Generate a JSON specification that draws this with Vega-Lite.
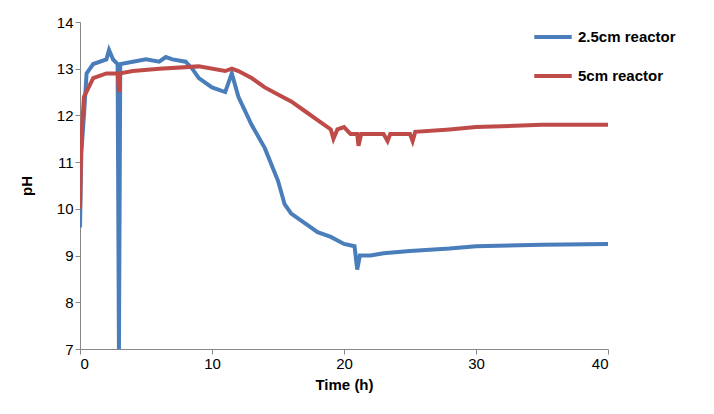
{
  "$schema": "https://vega.github.io/schema/vega-lite/v6.json",
  "background": "white",
  "autosize": "none",
  "width": 528,
  "height": 327,
  "padding": {"top": 22, "left": 80, "right": 106, "bottom": 65},
  "data": {
    "values": [
      {"t": 0, "pH": 9.6, "s": "2.5cm reactor"},
      {"t": 0.1, "pH": 11.2, "s": "2.5cm reactor"},
      {"t": 0.3, "pH": 12.0, "s": "2.5cm reactor"},
      {"t": 0.5, "pH": 12.9, "s": "2.5cm reactor"},
      {"t": 1, "pH": 13.1, "s": "2.5cm reactor"},
      {"t": 2, "pH": 13.2, "s": "2.5cm reactor"},
      {"t": 2.2, "pH": 13.4, "s": "2.5cm reactor"},
      {"t": 2.5, "pH": 13.2, "s": "2.5cm reactor"},
      {"t": 2.85, "pH": 13.1, "s": "2.5cm reactor"},
      {"t": 2.95, "pH": 7.0, "s": "2.5cm reactor"},
      {"t": 3.05, "pH": 13.1, "s": "2.5cm reactor"},
      {"t": 4, "pH": 13.15, "s": "2.5cm reactor"},
      {"t": 5, "pH": 13.2, "s": "2.5cm reactor"},
      {"t": 6, "pH": 13.15, "s": "2.5cm reactor"},
      {"t": 6.5, "pH": 13.25, "s": "2.5cm reactor"},
      {"t": 7, "pH": 13.2, "s": "2.5cm reactor"},
      {"t": 8, "pH": 13.15, "s": "2.5cm reactor"},
      {"t": 8.5, "pH": 13.0, "s": "2.5cm reactor"},
      {"t": 9, "pH": 12.8, "s": "2.5cm reactor"},
      {"t": 10, "pH": 12.6, "s": "2.5cm reactor"},
      {"t": 11, "pH": 12.5, "s": "2.5cm reactor"},
      {"t": 11.5, "pH": 12.9, "s": "2.5cm reactor"},
      {"t": 12, "pH": 12.4, "s": "2.5cm reactor"},
      {"t": 13, "pH": 11.8, "s": "2.5cm reactor"},
      {"t": 14, "pH": 11.3, "s": "2.5cm reactor"},
      {"t": 15, "pH": 10.6, "s": "2.5cm reactor"},
      {"t": 15.5, "pH": 10.1, "s": "2.5cm reactor"},
      {"t": 16, "pH": 9.9, "s": "2.5cm reactor"},
      {"t": 17, "pH": 9.7, "s": "2.5cm reactor"},
      {"t": 18, "pH": 9.5, "s": "2.5cm reactor"},
      {"t": 19, "pH": 9.4, "s": "2.5cm reactor"},
      {"t": 20, "pH": 9.25, "s": "2.5cm reactor"},
      {"t": 20.8, "pH": 9.2, "s": "2.5cm reactor"},
      {"t": 21, "pH": 8.7, "s": "2.5cm reactor"},
      {"t": 21.2, "pH": 9.0, "s": "2.5cm reactor"},
      {"t": 22, "pH": 9.0, "s": "2.5cm reactor"},
      {"t": 23, "pH": 9.05, "s": "2.5cm reactor"},
      {"t": 25, "pH": 9.1, "s": "2.5cm reactor"},
      {"t": 28, "pH": 9.15, "s": "2.5cm reactor"},
      {"t": 30, "pH": 9.2, "s": "2.5cm reactor"},
      {"t": 35, "pH": 9.23, "s": "2.5cm reactor"},
      {"t": 40, "pH": 9.25, "s": "2.5cm reactor"},
      {"t": 0, "pH": 10.0, "s": "5cm reactor"},
      {"t": 0.1, "pH": 11.5, "s": "5cm reactor"},
      {"t": 0.3, "pH": 12.4, "s": "5cm reactor"},
      {"t": 1, "pH": 12.8, "s": "5cm reactor"},
      {"t": 2, "pH": 12.9, "s": "5cm reactor"},
      {"t": 2.85, "pH": 12.9, "s": "5cm reactor"},
      {"t": 2.95, "pH": 12.5, "s": "5cm reactor"},
      {"t": 3.05, "pH": 12.9, "s": "5cm reactor"},
      {"t": 4, "pH": 12.95, "s": "5cm reactor"},
      {"t": 6, "pH": 13.0, "s": "5cm reactor"},
      {"t": 9, "pH": 13.05, "s": "5cm reactor"},
      {"t": 11, "pH": 12.95, "s": "5cm reactor"},
      {"t": 11.5, "pH": 13.0, "s": "5cm reactor"},
      {"t": 12, "pH": 12.95, "s": "5cm reactor"},
      {"t": 13, "pH": 12.8, "s": "5cm reactor"},
      {"t": 14, "pH": 12.6, "s": "5cm reactor"},
      {"t": 15, "pH": 12.45, "s": "5cm reactor"},
      {"t": 16, "pH": 12.3, "s": "5cm reactor"},
      {"t": 17, "pH": 12.1, "s": "5cm reactor"},
      {"t": 18, "pH": 11.9, "s": "5cm reactor"},
      {"t": 19, "pH": 11.7, "s": "5cm reactor"},
      {"t": 19.2, "pH": 11.5, "s": "5cm reactor"},
      {"t": 19.5, "pH": 11.7, "s": "5cm reactor"},
      {"t": 20, "pH": 11.75, "s": "5cm reactor"},
      {"t": 20.5, "pH": 11.6, "s": "5cm reactor"},
      {"t": 21, "pH": 11.6, "s": "5cm reactor"},
      {"t": 21.1, "pH": 11.35, "s": "5cm reactor"},
      {"t": 21.3, "pH": 11.6, "s": "5cm reactor"},
      {"t": 23, "pH": 11.6, "s": "5cm reactor"},
      {"t": 23.3, "pH": 11.45, "s": "5cm reactor"},
      {"t": 23.5, "pH": 11.6, "s": "5cm reactor"},
      {"t": 25, "pH": 11.6, "s": "5cm reactor"},
      {"t": 25.2, "pH": 11.45, "s": "5cm reactor"},
      {"t": 25.4, "pH": 11.65, "s": "5cm reactor"},
      {"t": 28, "pH": 11.7, "s": "5cm reactor"},
      {"t": 30, "pH": 11.75, "s": "5cm reactor"},
      {"t": 35, "pH": 11.8, "s": "5cm reactor"},
      {"t": 40, "pH": 11.8, "s": "5cm reactor"}
    ]
  },
  "mark": {"type": "line", "strokeWidth": 4, "clip": true},
  "encoding": {
    "x": {
      "field": "t", "type": "quantitative", "title": "Time (h)",
      "scale": {"domain": [0, 40], "nice": false},
      "axis": {"values": [0, 10, 20, 30, 40], "grid": false, "titlePadding": 6}
    },
    "y": {
      "field": "pH", "type": "quantitative", "title": "pH",
      "scale": {"domain": [7, 14], "nice": false, "zero": false},
      "axis": {"values": [7, 8, 9, 10, 11, 12, 13, 14], "grid": false, "titlePadding": 22}
    },
    "color": {
      "field": "s", "type": "nominal", "title": null,
      "scale": {"domain": ["2.5cm reactor", "5cm reactor"], "range": ["#4a7ebb", "#be4b48"]},
      "legend": {
        "orient": "none", "legendX": 452, "legendY": -6,
        "symbolType": "stroke", "symbolSize": 1400, "symbolStrokeWidth": 4,
        "labelFontSize": 15, "labelFontWeight": "bold", "labelFont": "Liberation Sans", "rowPadding": 10
      }
    },
    "order": {"field": "t", "type": "quantitative"}
  },
  "config": {
    "view": {"stroke": null},
    "axis": {
      "labelFont": "Liberation Sans", "labelFontSize": 15, "labelColor": "#000",
      "titleFont": "Liberation Sans", "titleFontSize": 15, "titleFontWeight": "bold", "titleColor": "#000",
      "domainColor": "#888", "tickColor": "#888", "tickSize": 5
    }
  }
}
